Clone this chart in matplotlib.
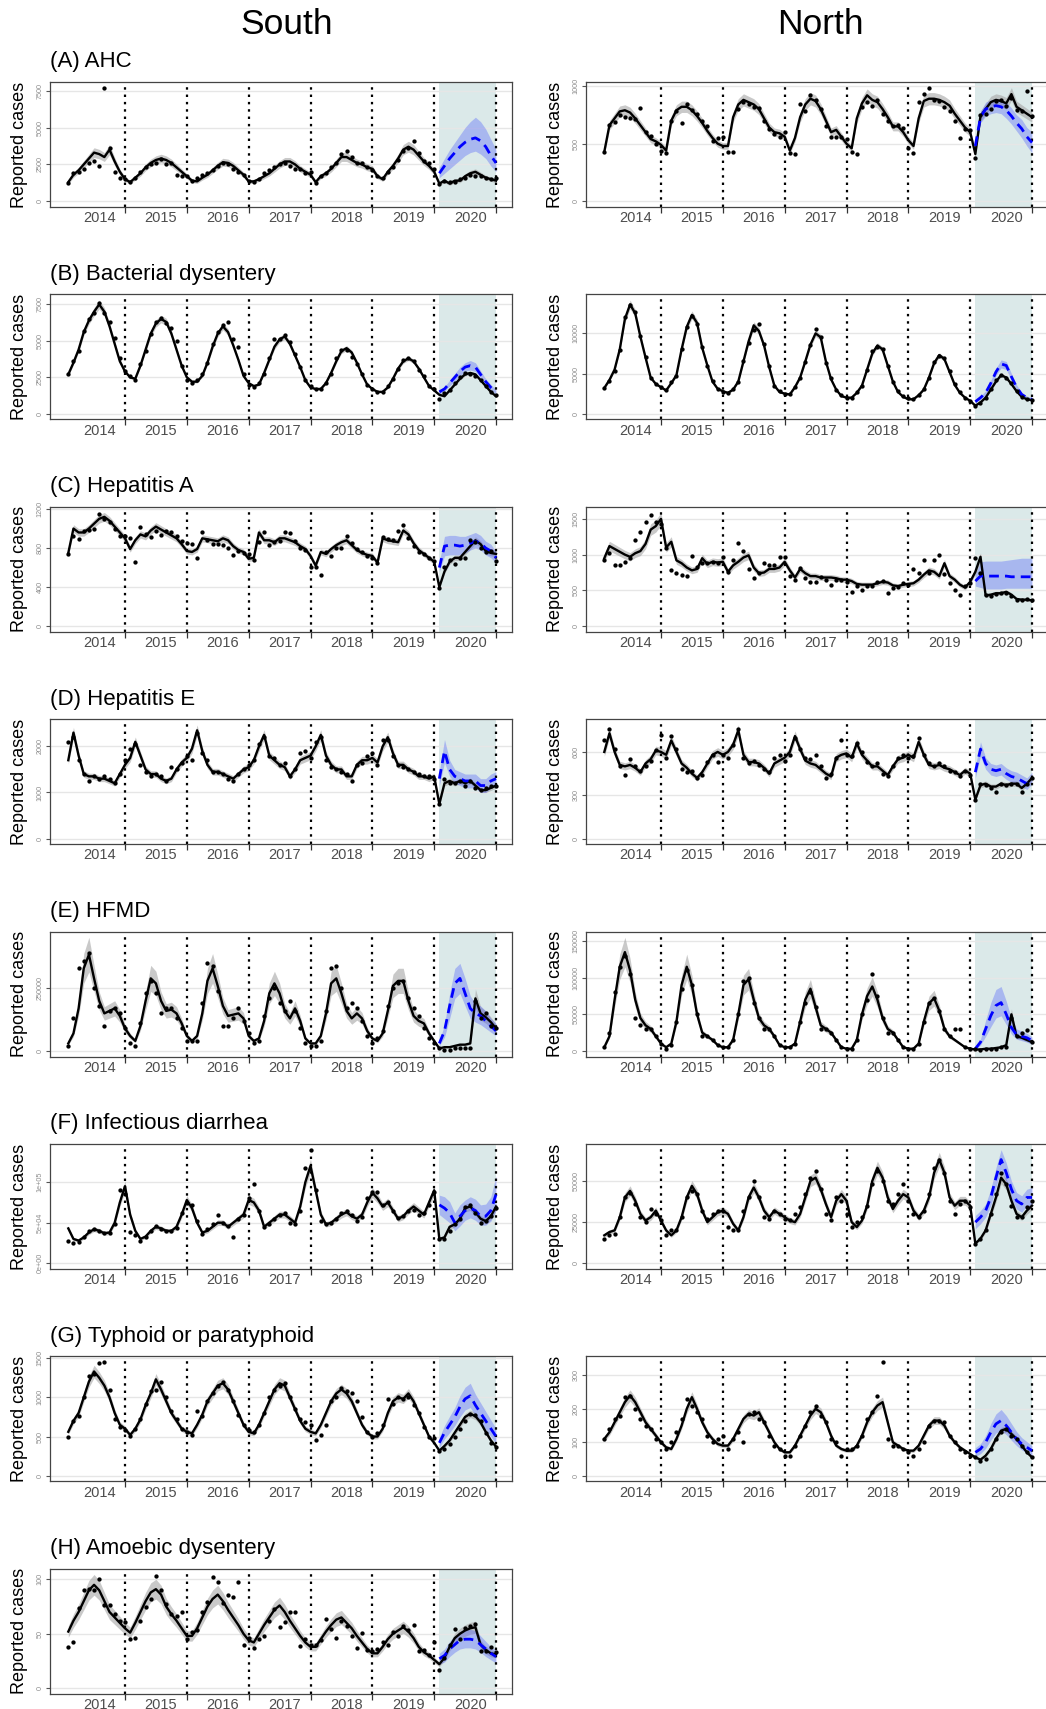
import numpy as np
import matplotlib
matplotlib.use("Agg")
import matplotlib.pyplot as plt

plt.rcParams['font.family'] = ['Liberation Sans', 'DejaVu Sans']

# ---------------- data ----------------
months = np.arange(1, 85)          # Jan 2014 .. Dec 2020
cf_months = np.arange(73, 85)      # 2020
year_labels = ['2014', '2015', '2016', '2017', '2018', '2019', '2020']
year_label_pos = [7, 19, 31, 43, 55, 67, 79]
year_ends = [12, 24, 36, 48, 60, 72, 84]
col_titles = ['South', 'North']

# (A) AHC
ahc_s_obs = [1250,1900,2000,2200,2600,2700,2400,7700,3600,2000,1600,1500,
             1300,1600,2000,2300,2500,2600,2900,2500,2600,1800,1700,1700,
             1400,1600,1800,1900,2100,2400,2600,2500,2200,2000,1800,1400,
             1300,1500,1900,2100,2300,2500,2600,2400,2200,2200,1900,2000,
             1250,1700,1900,2300,2600,3200,3400,3000,2600,2600,2300,2100,
             1700,1600,2000,2300,2800,3400,3600,4100,3300,2700,2600,2200,
             1200,1400,1300,1300,1500,1600,1800,1700,1700,1600,1500,1600]
ahc_s_fit = [1300,1800,2100,2500,2900,3300,3200,3000,3500,2700,2000,1500,
             1300,1600,1900,2300,2600,2800,2900,2800,2600,2300,2000,1700,
             1400,1350,1600,1800,2100,2400,2650,2600,2400,2100,1800,1350,
             1350,1500,1700,1900,2200,2500,2700,2700,2500,2200,2000,1800,
             1300,1700,1900,2200,2600,3000,3000,2800,2600,2500,2300,2200,
             1700,1500,2000,2400,2900,3500,3700,3500,3100,2700,2400,2000,
             1200,1400,1200,1400,1400,1700,1900,2000,1800,1600,1500,1400]
ahc_s_cf = [1900,2400,2900,3300,3700,4000,4200,4300,4100,3700,3100,2600]
ahc_s_cf_lo = [1600,1900,2200,2500,2800,3100,3300,3400,3200,2900,2400,2000]
ahc_s_cf_hi = [2300,2900,3500,4000,4500,5000,5400,5700,5400,4900,4200,3500]

ahc_n_obs = [430,660,690,750,730,720,710,810,600,570,500,440,
             415,700,780,680,840,790,760,700,650,520,550,560,
             430,430,800,860,840,820,810,700,630,580,560,600,
             420,410,840,780,920,880,800,650,560,560,560,540,
             430,410,820,860,830,880,760,700,650,660,640,460,
             420,860,930,980,880,870,820,780,700,550,630,620,
             380,750,760,800,870,880,830,900,790,780,960,740]
ahc_n_fit = [430,660,720,780,790,770,720,660,600,540,520,490,
             440,700,790,820,820,790,740,680,610,550,500,480,
             480,730,840,880,860,840,800,720,640,600,590,560,
             440,550,730,840,890,870,800,700,600,620,560,500,
             460,720,850,920,880,860,800,730,650,650,600,530,
             480,720,870,890,890,880,860,830,760,700,640,600,
             410,740,800,860,880,870,850,930,820,790,760,730]
ahc_n_cf = [480,730,800,820,830,820,790,740,680,630,560,510]
ahc_n_cf_lo = [440,680,740,760,770,760,720,670,610,550,480,420]
ahc_n_cf_hi = [520,780,860,880,890,880,860,810,750,710,640,600]

# (B) Bacterial dysentery
bd_s_obs = [2700,3600,4300,5700,6500,6900,7600,6900,6300,5200,3800,2900,
            2600,2300,3400,4300,5500,6300,6600,6200,5900,5000,3300,2300,
            2100,2300,2700,3500,4800,5600,6100,6300,5100,4600,2700,2000,
            1800,2100,2700,3800,5100,5100,5400,4900,4100,3200,2300,1900,
            1700,1700,2100,2700,3800,4400,4400,3900,3400,2700,2000,1700,
            1500,1500,1900,2400,3100,3700,3800,3600,3000,2600,1900,1700,
            1000,1400,1600,2100,2500,2800,2700,2600,2300,1900,1500,1300]
bd_s_fit = [2700,3500,4400,5600,6400,7000,7500,7000,6000,4800,3600,2900,
            2500,2400,3300,4400,5500,6200,6500,6300,5500,4400,3300,2500,
            2200,2200,2600,3500,4600,5500,6000,5600,4700,3700,2600,2100,
            1900,2000,2800,3700,4600,5100,5300,4800,4000,3200,2300,1800,
            1700,1700,2100,2800,3600,4300,4500,4200,3500,2700,2000,1700,
            1500,1500,1800,2400,3100,3600,3800,3600,3100,2500,1900,1600,
            1300,1200,1600,2000,2400,2700,2800,2700,2300,1900,1500,1200]
bd_s_cf = [1500,1700,2100,2500,2900,3200,3300,3200,2700,2200,1800,1500]
bd_s_cf_lo = [1350,1550,1900,2250,2600,2900,3000,2900,2450,2000,1600,1350]
bd_s_cf_hi = [1650,1850,2300,2750,3200,3500,3650,3500,2950,2400,2000,1650]

bd_n_obs = [3200,4100,5300,7900,12000,13500,12600,9700,7000,4400,3700,3300,
            2900,3900,4700,8000,10800,12200,11200,8300,5900,4100,3100,2700,
            2600,3100,4000,6600,8800,10400,11200,8700,5900,3500,2800,2500,
            2500,3300,4400,6400,8500,10500,9500,6300,4400,3000,2300,2000,
            2000,2700,3400,5500,7800,8300,8100,6000,4000,2800,2200,1900,
            1800,2300,3100,4500,6400,7200,6900,5300,3700,2700,2000,1600,
            1000,1300,1900,3100,4200,4800,4500,3800,2800,2100,1800,1700]
bd_n_fit = [3200,4200,5500,8000,11800,13600,12500,9600,7000,4500,3700,3300,
            2900,3800,4800,8000,10800,12300,11300,8200,6000,4000,3100,2800,
            2600,3000,4000,6500,9000,11000,10300,8500,5800,3500,2700,2500,
            2400,3300,4500,6500,8600,10000,9500,6500,4300,3000,2200,2000,
            2000,2600,3500,5500,7500,8500,8000,6000,4000,2700,2100,1800,
            1800,2300,3000,4500,6300,7300,6800,5200,3600,2600,2000,1600,
            1000,1400,2000,3000,4000,4800,4500,3700,2800,2100,1800,1700]
bd_n_cf = [1500,2000,2600,3800,5200,6200,6000,4600,3300,2400,2000,1800]
bd_n_cf_lo = [1350,1800,2350,3450,4750,5700,5500,4200,3000,2200,1800,1600]
bd_n_cf_hi = [1650,2200,2850,4150,5650,6700,6500,5000,3600,2600,2200,2000]

# (C) Hepatitis A
ha_s_obs = [740,920,890,970,990,1000,1150,1100,1070,1000,920,920,
            900,660,1020,940,910,970,930,970,960,920,870,850,
            840,700,960,880,840,840,830,800,730,770,750,740,
            680,860,960,830,860,870,960,950,870,800,780,610,
            610,520,760,720,800,800,920,850,790,760,720,700,
            650,910,890,880,980,1040,900,820,760,740,700,670,
            390,610,680,640,700,700,880,860,800,760,770,670]
ha_s_fit = [750,1000,960,960,1000,1050,1100,1120,1080,1020,960,900,
            790,880,940,920,980,1020,990,960,930,900,840,770,
            760,790,900,890,880,870,900,880,820,780,760,690,
            700,960,880,880,860,900,900,880,860,820,790,720,
            620,760,740,790,830,860,880,830,780,750,730,720,
            650,900,880,870,860,980,940,850,780,740,700,660,
            400,560,660,700,700,760,820,880,840,770,750,740]
ha_s_cf = [600,820,830,830,820,830,850,870,850,800,770,700]
ha_s_cf_lo = [560,720,730,730,730,750,780,800,780,730,700,650]
ha_s_cf_hi = [660,920,930,930,920,920,940,960,930,870,840,760]

ha_n_obs = [930,1020,850,850,900,950,1200,1320,1460,1560,1460,1430,
            1100,790,750,720,700,980,830,880,890,900,880,970,
            760,920,1160,1050,800,680,740,890,860,850,970,970,
            700,640,810,680,620,620,690,640,580,650,640,620,
            480,560,510,560,560,620,630,460,540,550,600,580,
            800,750,920,740,930,1000,730,610,500,430,560,600,
            960,750,430,420,450,460,470,420,370,370,380,360]
ha_n_fit = [950,1120,1080,1040,1000,970,1020,1050,1150,1350,1400,1500,
            1100,1180,920,880,820,780,800,950,870,900,890,900,
            760,850,900,960,990,820,740,750,800,800,820,900,
            780,680,800,740,700,700,680,680,680,670,650,650,
            630,590,580,580,580,600,620,610,570,560,580,590,
            600,650,720,780,760,700,880,700,650,580,540,620,
            760,970,430,440,460,460,480,440,380,370,370,360]
ha_n_cf = [630,700,700,700,700,700,700,690,690,690,690,690]
ha_n_cf_lo = [560,540,520,520,520,520,530,530,530,530,530,530]
ha_n_cf_hi = [720,900,910,910,910,910,920,930,940,950,950,950]

# (D) Hepatitis E
he_s_obs = [2100,2200,1700,1400,1250,1350,1300,1350,1300,1200,1400,1700,
            1950,2050,1600,1450,1350,1400,1350,1250,1550,1500,1650,1800,
            1700,2300,1850,1700,1450,1450,1400,1300,1250,1400,1500,1600,
            1700,2050,2200,1800,1750,1600,1650,1350,1500,1850,1900,1750,
            2100,2200,1700,1550,1500,1450,1400,1250,1600,1650,1800,1850,
            1600,2150,2150,1800,1600,1550,1500,1450,1400,1350,1350,1300,
            750,1300,1200,1200,1250,1150,1250,1100,1050,1100,1150,1150]
he_s_fit = [1700,2300,1800,1400,1350,1350,1300,1300,1250,1200,1400,1600,
            1750,2100,1800,1500,1400,1400,1300,1250,1300,1500,1650,1750,
            1950,2350,1900,1600,1450,1450,1400,1350,1300,1400,1500,1550,
            1700,2000,2250,1800,1700,1600,1550,1350,1500,1700,1750,1800,
            2000,2250,1800,1600,1500,1500,1350,1350,1600,1700,1700,1750,
            1650,2000,2200,1850,1600,1600,1500,1450,1350,1350,1300,1350,
            750,1200,1250,1200,1250,1200,1250,1150,1050,1050,1100,1150]
he_s_cf = [1300,1900,1500,1350,1300,1250,1250,1250,1150,1150,1250,1300]
he_s_cf_lo = [1150,1650,1350,1200,1150,1100,1100,1100,1000,1000,1100,1150]
he_s_cf_hi = [1450,2150,1700,1500,1450,1400,1400,1400,1300,1300,1400,1450]

he_n_obs = [680,760,620,500,440,550,500,470,500,540,610,720,
            560,710,620,480,460,470,420,440,530,580,530,580,
            560,650,760,560,520,540,510,480,460,560,580,540,
            580,700,620,560,550,580,500,420,450,560,680,580,
            570,660,600,530,500,520,450,430,500,560,580,560,
            570,700,580,520,500,520,500,470,460,430,470,440,
            270,380,370,350,320,380,370,380,380,320,380,420]
he_n_fit = [600,730,600,510,500,510,490,460,520,550,610,600,
            580,680,600,520,490,450,420,460,520,580,600,580,
            600,650,750,580,530,530,520,490,450,520,540,560,
            600,710,620,540,520,510,480,450,430,560,580,590,
            560,660,580,540,500,500,470,440,500,550,560,580,
            560,670,580,510,500,510,490,480,460,440,470,450,
            270,370,380,360,360,380,370,380,380,350,380,420]
he_n_cf = [460,620,520,480,470,480,450,430,420,400,380,420]
he_n_cf_lo = [420,570,480,440,430,440,410,390,380,360,340,380]
he_n_cf_hi = [500,670,560,520,510,520,490,470,460,440,420,460]

# (E) HFMD
hf_s_obs = [20000,130000,330000,360000,390000,250000,180000,100000,160000,170000,150000,90000,
            30000,20000,110000,230000,280000,230000,150000,170000,170000,130000,90000,40000,
            40000,40000,190000,350000,340000,240000,100000,100000,130000,170000,120000,70000,
            30000,40000,140000,210000,250000,190000,160000,200000,160000,90000,30000,20000,
            20000,40000,160000,330000,340000,250000,170000,190000,170000,120000,60000,30000,
            50000,80000,180000,250000,270000,280000,210000,170000,140000,90000,50000,30000,
            10000,5000,5000,10000,10000,10000,10000,200000,130000,150000,100000,90000]
hf_s_fit = [30000,70000,170000,330000,385000,290000,200000,150000,160000,170000,140000,90000,
            60000,40000,100000,200000,290000,270000,200000,160000,165000,150000,110000,60000,
            40000,60000,150000,280000,330000,260000,180000,140000,145000,150000,130000,60000,
            40000,50000,120000,230000,270000,230000,160000,130000,170000,120000,50000,30000,
            30000,60000,150000,270000,290000,230000,160000,130000,150000,130000,80000,50000,
            40000,70000,160000,260000,280000,280000,200000,140000,120000,110000,70000,40000,
            10000,15000,15000,20000,25000,25000,30000,210000,150000,135000,115000,90000]
hf_s_cf = [30000,80000,180000,270000,290000,230000,170000,150000,140000,120000,100000,80000]
hf_s_cf_lo = [20000,55000,130000,210000,230000,180000,130000,115000,105000,90000,75000,60000]
hf_s_cf_hi = [40000,105000,230000,330000,350000,290000,220000,190000,180000,160000,130000,110000]

hf_n_obs = [5000,25000,80000,115000,130000,105000,45000,35000,30000,30000,20000,10000,
            3000,8000,40000,85000,110000,90000,50000,20000,20000,15000,8000,5000,
            5000,15000,50000,95000,100000,65000,45000,30000,30000,20000,8000,5000,
            5000,10000,40000,65000,80000,60000,30000,30000,25000,15000,5000,3000,
            3000,15000,50000,70000,105000,75000,45000,25000,25000,15000,5000,3000,
            3000,10000,40000,65000,72000,55000,30000,20000,30000,30000,5000,3000,
            2000,1000,2000,2000,3000,5000,5000,45000,20000,25000,28000,12000]
hf_n_fit = [5000,20000,70000,115000,135000,110000,70000,45000,35000,30000,20000,10000,
            5000,10000,40000,90000,115000,90000,50000,25000,20000,15000,8000,5000,
            5000,15000,50000,90000,98000,70000,45000,35000,30000,20000,8000,5000,
            5000,10000,40000,70000,85000,60000,35000,30000,25000,15000,5000,3000,
            3000,15000,50000,75000,88000,70000,45000,30000,25000,15000,5000,3000,
            3000,10000,40000,65000,72000,55000,30000,20000,15000,10000,5000,3000,
            2000,2000,3000,3000,4000,5000,8000,50000,20000,18000,15000,12000]
hf_n_cf = [3000,12000,30000,48000,62000,66000,50000,32000,22000,20000,18000,14000]
hf_n_cf_lo = [2000,8000,20000,33000,45000,48000,36000,23000,16000,14000,12000,9000]
hf_n_cf_hi = [4000,16000,42000,66000,84000,88000,68000,44000,30000,27000,24000,19000]

# (F) Infectious diarrhea
id_s_obs = [27000,25000,26000,32000,40000,42000,40000,37000,37000,48000,90000,85000,
            38000,35000,28000,32000,40000,46000,42000,40000,40000,44000,62000,74000,
            72000,52000,36000,42000,48000,60000,50000,46000,32000,55000,60000,80000,
            98000,65000,45000,48000,55000,60000,62000,50000,48000,65000,118000,140000,
            90000,52000,48000,50000,55000,62000,64000,60000,52000,57000,80000,88000,
            88000,72000,76000,64000,56000,58000,64000,66000,60000,62000,72000,88000,
            30000,30000,40000,48000,55000,70000,72000,62000,50000,52000,58000,68000]
id_s_fit = [43000,30000,28000,32000,38000,42000,40000,37000,38000,50000,75000,95000,
            60000,40000,30000,33000,40000,45000,43000,40000,40000,45000,60000,78000,
            68000,50000,38000,40000,45000,50000,50000,45000,50000,55000,60000,78000,
            75000,65000,45000,50000,55000,60000,60000,55000,50000,70000,100000,120000,
            90000,60000,48000,50000,55000,60000,63000,58000,55000,60000,75000,87000,
            80000,70000,75000,65000,55000,58000,65000,70000,65000,60000,75000,90000,
            30000,32000,45000,48000,55000,68000,70000,63000,55000,52000,58000,70000]
id_s_cf = [72000,68000,62000,50000,58000,65000,68000,65000,58000,58000,65000,85000]
id_s_cf_lo = [60000,55000,50000,40000,46000,53000,56000,53000,47000,47000,52000,65000]
id_s_cf_hi = [84000,82000,76000,62000,72000,78000,82000,79000,72000,73000,82000,108000]

id_n_obs = [15000,17000,18000,28000,40000,43000,36000,28000,25000,33000,30000,26000,
            17000,20000,20000,28000,40000,44000,42000,32000,27000,30000,32000,32000,
            22000,20000,20000,32000,40000,50000,40000,28000,27000,32000,30000,27000,
            26000,30000,34000,42000,52000,56000,45000,30000,26000,40000,38000,30000,
            22000,25000,28000,35000,48000,56000,50000,38000,36000,42000,48000,38000,
            30000,28000,32000,42000,58000,63000,55000,38000,30000,36000,38000,34000,
            12000,15000,20000,30000,42000,55000,48000,35000,28000,28000,34000,38000]
id_n_fit = [17000,19000,20000,28000,40000,44000,38000,30000,26000,28000,32000,26000,
            20000,17000,20000,28000,40000,47000,42000,32000,25000,28000,31000,32000,
            30000,24000,20000,28000,40000,46000,40000,32000,28000,32000,30000,28000,
            26000,25000,30000,40000,50000,52000,45000,36000,28000,38000,42000,38000,
            25000,22000,26000,35000,50000,58000,52000,40000,33000,38000,42000,40000,
            32000,28000,32000,40000,55000,63000,55000,40000,35000,38000,38000,35000,
            12000,15000,20000,30000,40000,52000,48000,38000,30000,28000,32000,35000]
id_n_cf = [25000,28000,32000,40000,52000,63000,55000,45000,38000,36000,40000,40000]
id_n_cf_lo = [21000,24000,28000,35000,46000,57000,49000,40000,33000,31000,35000,35000]
id_n_cf_hi = [29000,32000,36000,45000,58000,69000,61000,50000,43000,41000,45000,46000]

# (G) Typhoid or paratyphoid
ty_s_obs = [490,700,760,1000,1270,1300,1440,1450,1100,730,620,580,
            510,600,720,920,1080,1100,1200,1000,820,720,600,560,
            520,820,760,950,1050,1150,1200,1100,950,780,650,580,
            560,650,800,1000,1100,1150,1180,1000,850,720,680,650,
            460,520,650,950,1000,1120,1080,1050,950,750,560,500,
            540,650,980,920,1000,980,1000,900,800,620,500,480,
            320,340,400,500,600,700,790,780,700,540,420,370]
ty_s_fit = [560,700,800,1000,1200,1330,1250,1150,1000,800,650,600,
            520,600,720,900,1050,1230,1100,950,800,700,600,560,
            540,650,780,950,1050,1150,1180,1100,950,800,650,560,
            540,650,800,950,1100,1180,1150,1000,850,700,600,560,
            540,650,800,950,1050,1100,1050,950,800,650,550,500,
            500,600,800,950,1000,980,1050,950,800,650,500,420,
            320,380,450,550,650,750,790,760,680,560,450,370]
ty_s_cf = [420,550,650,750,880,980,1020,900,800,700,600,500]
ty_s_cf_lo = [360,470,550,640,750,840,870,770,680,590,500,410]
ty_s_cf_hi = [490,640,760,870,1020,1130,1180,1040,930,820,710,600]

ty_n_obs = [110,140,170,180,235,240,200,170,150,140,110,100,
            80,100,130,170,230,210,190,170,120,100,110,120,
            80,110,130,100,185,190,170,160,120,90,80,60,
            60,90,120,150,190,210,180,160,110,100,60,80,
            80,90,120,170,190,240,340,110,90,90,80,70,
            60,80,100,150,165,165,160,120,100,80,70,60,
            55,45,50,80,110,130,140,120,110,90,70,55]
ty_n_fit = [110,130,160,190,220,240,220,190,160,140,120,100,
            85,80,110,150,200,235,200,160,130,110,95,90,
            90,110,140,170,185,180,190,160,130,100,80,70,
            70,90,120,150,180,200,190,160,120,90,80,75,
            75,90,120,160,190,210,220,160,100,90,80,75,
            75,90,120,150,165,165,150,120,100,85,75,65,
            55,48,60,80,110,135,140,125,110,90,70,55]
ty_n_cf = [70,80,100,130,155,165,150,130,110,95,85,75]
ty_n_cf_lo = [58,66,82,107,128,135,123,106,90,77,69,60]
ty_n_cf_hi = [84,96,120,156,185,198,180,156,132,114,102,90]

# (H) Amoebic dysentery
am_s_obs = [38,42,74,90,91,90,100,76,76,68,62,61,
            45,46,62,75,82,103,90,77,68,66,70,45,
            52,53,70,79,102,98,78,86,84,98,40,46,
            37,45,48,62,73,56,61,70,70,39,45,40,
            40,44,64,54,46,62,57,48,37,51,35,34,
            36,42,40,52,48,57,53,58,34,35,30,42,
            17,28,40,54,45,55,57,59,34,34,38,33]
am_s_fit = [52,62,70,80,90,95,90,80,70,65,60,55,
            51,60,70,80,88,91,86,75,68,62,55,48,
            48,55,65,75,82,86,80,72,65,58,50,44,
            42,50,58,65,72,76,70,62,55,48,42,38,
            38,45,52,58,63,65,60,55,48,42,36,32,
            32,38,45,50,53,56,52,46,38,33,30,26,
            22,28,38,46,50,53,55,56,40,35,32,31]
am_s_cf = [27,30,36,40,44,45,45,44,40,36,32,29]
am_s_cf_lo = [22,24,29,33,36,37,37,36,33,29,26,23]
am_s_cf_hi = [32,36,43,48,52,54,54,53,48,43,38,35]

# panel definitions: (title, column, row, obs, fit, cf, cf_lo, cf_hi, band, yticks, ylabels)
panels = [
    ('(A) AHC', 0, 0, ahc_s_obs, ahc_s_fit, ahc_s_cf, ahc_s_cf_lo, ahc_s_cf_hi, 0.10,
     [0, 2500, 5000, 7500], ['0', '2500', '5000', '7500']),
    (None, 1, 0, ahc_n_obs, ahc_n_fit, ahc_n_cf, ahc_n_cf_lo, ahc_n_cf_hi, 0.06,
     [0, 500, 1000], ['0', '500', '1000']),
    ('(B) Bacterial dysentery', 0, 1, bd_s_obs, bd_s_fit, bd_s_cf, bd_s_cf_lo, bd_s_cf_hi, 0.04,
     [0, 2500, 5000, 7500], ['0', '2500', '5000', '7500']),
    (None, 1, 1, bd_n_obs, bd_n_fit, bd_n_cf, bd_n_cf_lo, bd_n_cf_hi, 0.04,
     [0, 5000, 10000], ['0', '5000', '10000']),
    ('(C) Hepatitis A', 0, 2, ha_s_obs, ha_s_fit, ha_s_cf, ha_s_cf_lo, ha_s_cf_hi, 0.04,
     [0, 400, 800, 1200], ['0', '400', '800', '1200']),
    (None, 1, 2, ha_n_obs, ha_n_fit, ha_n_cf, ha_n_cf_lo, ha_n_cf_hi, 0.06,
     [0, 500, 1000, 1500], ['0', '500', '1000', '1500']),
    ('(D) Hepatitis E', 0, 3, he_s_obs, he_s_fit, he_s_cf, he_s_cf_lo, he_s_cf_hi, 0.05,
     [0, 1000, 2000], ['0', '1000', '2000']),
    (None, 1, 3, he_n_obs, he_n_fit, he_n_cf, he_n_cf_lo, he_n_cf_hi, 0.05,
     [0, 300, 600], ['0', '300', '600']),
    ('(E) HFMD', 0, 4, hf_s_obs, hf_s_fit, hf_s_cf, hf_s_cf_lo, hf_s_cf_hi, 0.18,
     [0, 250000], ['0', '250000']),
    (None, 1, 4, hf_n_obs, hf_n_fit, hf_n_cf, hf_n_cf_lo, hf_n_cf_hi, 0.15,
     [0, 50000, 100000, 150000], ['0', '50000', '100000', '150000']),
    ('(F) Infectious diarrhea', 0, 5, id_s_obs, id_s_fit, id_s_cf, id_s_cf_lo, id_s_cf_hi, 0.07,
     [0, 50000, 100000], ['0e+00', '5e+04', '1e+05']),
    (None, 1, 5, id_n_obs, id_n_fit, id_n_cf, id_n_cf_lo, id_n_cf_hi, 0.07,
     [0, 25000, 50000], ['0', '25000', '50000']),
    ('(G) Typhoid or paratyphoid', 0, 6, ty_s_obs, ty_s_fit, ty_s_cf, ty_s_cf_lo, ty_s_cf_hi, 0.06,
     [0, 500, 1000, 1500], ['0', '500', '1000', '1500']),
    (None, 1, 6, ty_n_obs, ty_n_fit, ty_n_cf, ty_n_cf_lo, ty_n_cf_hi, 0.07,
     [0, 100, 200, 300], ['0', '100', '200', '300']),
    ('(H) Amoebic dysentery', 0, 7, am_s_obs, am_s_fit, am_s_cf, am_s_cf_lo, am_s_cf_hi, 0.10,
     [0, 50, 100], ['0', '50', '100']),
]

# ---------------- layout ----------------
W, H = 1046, 1709
fig = plt.figure(figsize=(W / 100, H / 100), dpi=100)
fig.patch.set_facecolor('white')

col_left = [50, 586]
ax_w, ax_h = 462, 125
row_top0, row_pitch = 82, 212.4
header_x = [287, 820]

for ci, name in enumerate(col_titles):
    fig.text(header_x[ci] / W, 1 - 25 / H, name,
             fontsize=25.5, ha='center', va='center', color='black')

for (title, ci, ri, obs, fit, cf, cf_lo, cf_hi, band, yt, yl) in panels:
    top = row_top0 + ri * row_pitch
    left = col_left[ci]
    ax = fig.add_axes([left / W, 1 - (top + ax_h) / H, ax_w / W, ax_h / H])
    obs = np.array(obs, float)
    fit = np.array(fit, float)
    cf = np.array(cf, float)
    cf_lo = np.array(cf_lo, float)
    cf_hi = np.array(cf_hi, float)
    fit_lo = fit * (1 - band)
    fit_hi = fit * (1 + band)

    ax.axvspan(73, 84, color='#dbe9e9', zorder=0.2, lw=0)
    ax.fill_between(months, fit_lo, fit_hi, color='#a6a6a6', alpha=0.6, lw=0, zorder=1)
    ax.fill_between(cf_months, cf_lo, cf_hi, color='#3344ff', alpha=0.3, lw=0, zorder=1.1)
    for ye in year_ends:
        ax.axvline(ye, color='black', ls=(0, (1.1, 2.2)), lw=1.6, zorder=2)
    ax.plot(months, fit, color='black', lw=1.7, zorder=3)
    ax.plot(cf_months, cf, color='#0000ff', lw=2.0, ls=(0, (3.5, 2.2)), zorder=3.2)
    ax.plot(months, obs, 'o', color='black', ms=3.1, mec='none', zorder=4)

    R = max(obs.max(), fit_hi.max(), cf_hi.max())
    ax.set_ylim(-0.05 * R, 1.05 * R)
    ax.set_xlim(-2.55, 87.1)

    ax.set_yticks(yt)
    ax.set_yticklabels(yl, rotation=90, va='center', fontsize=5.2, color='#8c8c8c')
    ax.tick_params(axis='y', length=3, width=0.8, color='#555555', pad=1.5)
    ax.yaxis.grid(True, color='#e6e6e6', lw=1.0)
    ax.set_axisbelow(True)

    ax.set_xticks(year_ends)
    ax.set_xticklabels([])
    ax.set_xticks(year_label_pos, minor=True)
    ax.set_xticklabels(year_labels, minor=True, fontsize=10.5, color='#4d4d4d')
    ax.tick_params(axis='x', which='major', length=4, width=0.9, color='#333333')
    ax.tick_params(axis='x', which='minor', length=0, pad=3)

    for sp in ax.spines.values():
        sp.set_color('#444444')
        sp.set_linewidth(0.9)

    ax.text(-30 / ax_w, 0.5, 'Reported cases', transform=ax.transAxes, rotation=90,
            ha='center', va='center', fontsize=13, color='black')
    if title:
        fig.text(left / W, 1 - (top - 20) / H, title, fontsize=16, ha='left',
                 va='center', color='black')

fig.savefig('out.png', dpi=100, facecolor='white')
